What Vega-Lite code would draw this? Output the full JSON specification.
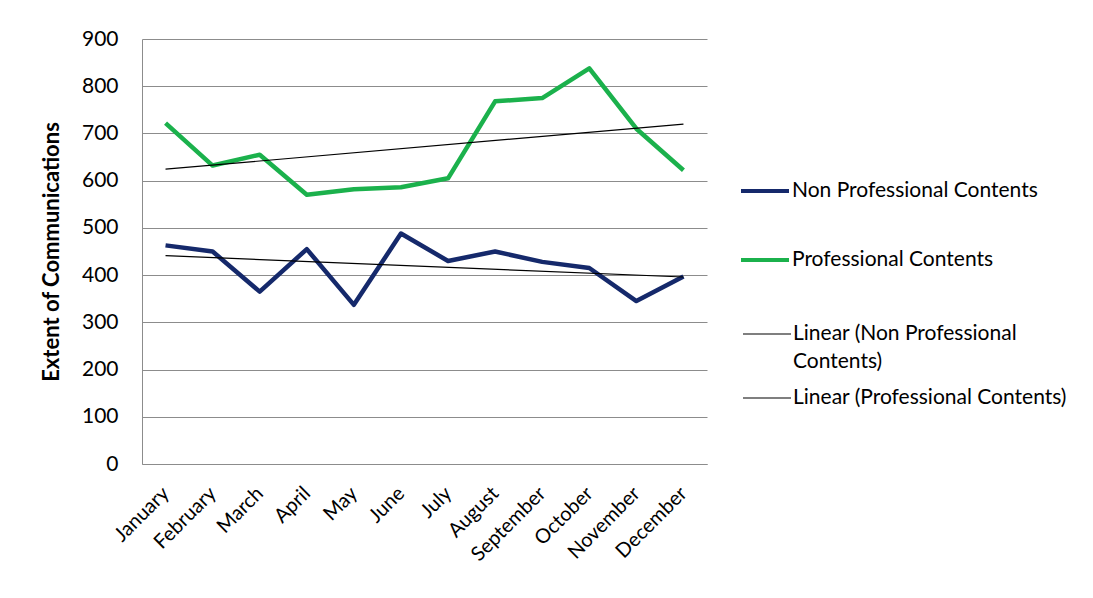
{
  "$schema": "https://vega.github.io/schema/vega-lite/v6.json",
  "autosize": "none",
  "width": 565,
  "height": 425,
  "padding": {"left": 142, "top": 39, "right": 386, "bottom": 134},
  "background": "#ffffff",
  "config": {
    "font": "Lato",
    "view": {"stroke": null},
    "axis": {"ticks": false, "domainColor": "#8c8c8c", "gridColor": "#8c8c8c", "labelColor": "#000000", "titleColor": "#000000"},
    "legend": {"title": null, "orient": "none", "symbolType": "stroke", "symbolSize": 2304, "labelOffset": 1, "labelFontSize": 21, "labelColor": "#000000", "labelLimit": 400}
  },
  "data": {
    "values": [
      {"month": "January", "idx": 1, "series": "Non Professional Contents", "trend": "Linear (Non Professional Contents)", "value": 463},
      {"month": "February", "idx": 2, "series": "Non Professional Contents", "trend": "Linear (Non Professional Contents)", "value": 450},
      {"month": "March", "idx": 3, "series": "Non Professional Contents", "trend": "Linear (Non Professional Contents)", "value": 365},
      {"month": "April", "idx": 4, "series": "Non Professional Contents", "trend": "Linear (Non Professional Contents)", "value": 455},
      {"month": "May", "idx": 5, "series": "Non Professional Contents", "trend": "Linear (Non Professional Contents)", "value": 337},
      {"month": "June", "idx": 6, "series": "Non Professional Contents", "trend": "Linear (Non Professional Contents)", "value": 488},
      {"month": "July", "idx": 7, "series": "Non Professional Contents", "trend": "Linear (Non Professional Contents)", "value": 430},
      {"month": "August", "idx": 8, "series": "Non Professional Contents", "trend": "Linear (Non Professional Contents)", "value": 450},
      {"month": "September", "idx": 9, "series": "Non Professional Contents", "trend": "Linear (Non Professional Contents)", "value": 428},
      {"month": "October", "idx": 10, "series": "Non Professional Contents", "trend": "Linear (Non Professional Contents)", "value": 415},
      {"month": "November", "idx": 11, "series": "Non Professional Contents", "trend": "Linear (Non Professional Contents)", "value": 345},
      {"month": "December", "idx": 12, "series": "Non Professional Contents", "trend": "Linear (Non Professional Contents)", "value": 397},
      {"month": "January", "idx": 1, "series": "Professional Contents", "trend": "Linear (Professional Contents)", "value": 722},
      {"month": "February", "idx": 2, "series": "Professional Contents", "trend": "Linear (Professional Contents)", "value": 632},
      {"month": "March", "idx": 3, "series": "Professional Contents", "trend": "Linear (Professional Contents)", "value": 655},
      {"month": "April", "idx": 4, "series": "Professional Contents", "trend": "Linear (Professional Contents)", "value": 570},
      {"month": "May", "idx": 5, "series": "Professional Contents", "trend": "Linear (Professional Contents)", "value": 582},
      {"month": "June", "idx": 6, "series": "Professional Contents", "trend": "Linear (Professional Contents)", "value": 586},
      {"month": "July", "idx": 7, "series": "Professional Contents", "trend": "Linear (Professional Contents)", "value": 605},
      {"month": "August", "idx": 8, "series": "Professional Contents", "trend": "Linear (Professional Contents)", "value": 768},
      {"month": "September", "idx": 9, "series": "Professional Contents", "trend": "Linear (Professional Contents)", "value": 775},
      {"month": "October", "idx": 10, "series": "Professional Contents", "trend": "Linear (Professional Contents)", "value": 838},
      {"month": "November", "idx": 11, "series": "Professional Contents", "trend": "Linear (Professional Contents)", "value": 710},
      {"month": "December", "idx": 12, "series": "Professional Contents", "trend": "Linear (Professional Contents)", "value": 622}
    ]
  },
  "layer": [
    {
      "mark": {"type": "line", "strokeWidth": 4.5, "strokeJoin": "round"},
      "encoding": {
        "x": {
          "field": "month", "type": "ordinal", "sort": null,
          "scale": {"type": "point", "padding": 0.5},
          "axis": {"title": null, "labelAngle": -45, "labelAlign": "right", "labelBaseline": "middle", "labelPadding": 26, "labelFontSize": 20}
        },
        "y": {
          "field": "value", "type": "quantitative",
          "scale": {"domain": [0, 900], "nice": false},
          "axis": {"values": [0, 100, 200, 300, 400, 500, 600, 700, 800, 900], "title": "Extent of Communications", "titleFontSize": 22, "titleFontWeight": "bold", "titlePadding": 18, "labelFontSize": 21, "labelPadding": 24, "grid": true}
        },
        "color": {
          "field": "series", "type": "nominal",
          "scale": {
            "domain": ["Non Professional Contents", "Professional Contents"],
            "range": ["#15296b", "#1bb14c"]
          },
          "legend": {"legendX": 597, "legendY": 126, "symbolStrokeWidth": 4, "rowPadding": 33}
        }
      }
    },
    {
      "transform": [{"regression": "value", "on": "idx", "groupby": ["trend"]}],
      "mark": {"type": "line", "strokeWidth": 1.2},
      "encoding": {
        "x": {"field": "idx", "type": "quantitative", "scale": {"domain": [0.5, 12.5], "nice": false, "zero": false}, "axis": null},
        "y": {"field": "value", "type": "quantitative"},
        "stroke": {
          "field": "trend", "type": "nominal",
          "scale": {
            "domain": ["Linear (Non Professional Contents)", "Linear (Professional Contents)"],
            "range": ["#000000", "#000000"]
          },
          "legend": {
            "legendX": 600,
            "legendY": 270,
            "symbolStrokeWidth": 1.2,
            "rowPadding": 1,
            "labelExpr": "datum.label == 'Linear (Non Professional Contents)' ? ['Linear (Non Professional', 'Contents)'] : datum.label",
            "encode": {"labels": {"update": {"lineHeight": {"value": 28}}}}
          }
        }
      }
    }
  ],
  "resolve": {"scale": {"x": "independent"}}
}
